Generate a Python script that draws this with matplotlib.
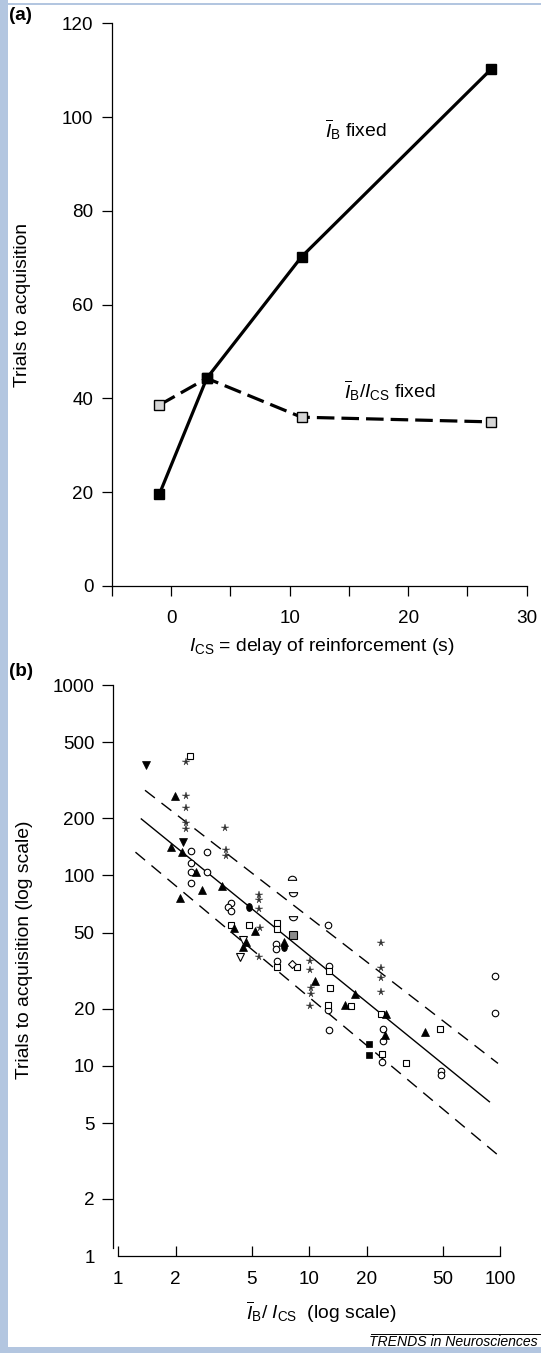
import numpy as np
import matplotlib
matplotlib.use("Agg")
import matplotlib.pyplot as plt
from matplotlib.path import Path
from matplotlib.patches import Rectangle
from matplotlib.lines import Line2D
from matplotlib.transforms import Affine2D

plt.rcParams['font.family'] = ['Liberation Sans', 'DejaVu Sans']
plt.rcParams['mathtext.fontset'] = 'custom'
plt.rcParams['mathtext.rm'] = 'Liberation Sans'
plt.rcParams['mathtext.it'] = 'Liberation Sans:italic'
plt.rcParams['mathtext.bf'] = 'Liberation Sans:bold'

# ---------- panel (a) data ----------
delay = [-1, 3, 11, 27]
trials_ib_fixed = [19.6, 44.3, 70.2, 110.2]
trials_ratio_fixed = [38.6, 44.3, 36.0, 35.0]
xticks_a = [-5, 0, 5, 10, 15, 20, 25, 30]
xticklabels_a = ['', '0', '', '10', '', '20', '', '30']
yticks_a = [0, 20, 40, 60, 80, 100, 120]

# ---------- panel (b) data ----------
open_sq_x = [2.37, 3.88, 4.85, 6.77, 6.77, 6.8, 8.65, 12.7, 12.8, 12.6, 16.6, 23.7, 48.3, 24.2, 32.1]
open_sq_y = [425, 55, 55, 56.4, 52.1, 33.0, 33.1, 31.6, 25.5, 20.8, 20.7, 18.8, 15.6, 11.5, 10.3]

open_circ_x = [2.39, 2.9, 2.39, 2.39, 2.9, 2.39, 3.88, 3.75, 3.88, 12.6, 6.69, 6.69,
               6.8, 12.7, 12.6, 12.7, 24.4, 24.4, 24.2, 94.6, 94.6, 49.3, 49.3]
open_circ_y = [135, 132, 116, 104, 104, 91.5, 71.5, 68.4, 65, 54.7, 43.6, 40.9,
               35.4, 33.4, 19.6, 15.4, 15.6, 13.5, 10.5, 29.6, 19.0, 9.4, 8.95]

up_tri_x = [1.98, 1.89, 2.16, 2.55, 2.74, 2.11, 3.48, 4.03, 5.2, 4.66, 4.51, 7.4,
            10.7, 17.3, 15.5, 25.4, 24.9, 40.3]
up_tri_y = [262, 141, 132, 104, 83.7, 76, 88, 53, 51.3, 44.7, 42.2, 44.8,
            28, 23.9, 20.8, 18.7, 14.5, 15]

down_tri_x = [1.4, 2.18]
down_tri_y = [380, 150]
open_down_x = [4.51, 4.35]
open_down_y = [46, 37.1]

star_x = [2.25, 2.25, 2.25, 2.25, 2.25, 3.62, 3.66, 3.66, 5.47, 5.47, 5.47, 5.52,
          5.47, 10.1, 10.1, 10.2, 10.2, 10.1, 23.7, 23.7, 23.7, 23.7]
star_y = [392, 261, 226, 189, 176, 177, 136, 127, 79, 74, 67, 52.9,
          37.1, 35.5, 32, 25.5, 23.8, 20.6, 44.3, 32.6, 28.9, 24.4]

dome_up_x = [8.17]
dome_up_y = [97]
dome_down_x = [8.27, 8.27]
dome_down_y = [80, 59.5]

black_sq_x = [20.6, 20.6]
black_sq_y = [13.0, 11.4]
grey_sq_x = [8.19]
grey_sq_y = [48.6]
black_oval_x = [4.85, 7.4]
black_oval_y = [68.4, 41.9]
diamond_x = [8.12]
diamond_y = [34.4]

fit_x = [1.32, 88.0]
fit_y = [198, 6.48]
upper_x = [1.38, 97.6]
upper_y = [280, 10.3]
lower_x = [1.23, 97.6]
lower_y = [132.5, 3.40]

xticks_b = [1, 2, 5, 10, 20, 50, 100]
yticks_b = [1, 2, 5, 10, 20, 50, 100, 200, 500, 1000]

# custom marker shapes
w = Path.wedge(0, 180)
dome_up = Path(w.vertices - [0, 0.45], w.codes)
w2 = Path.wedge(180, 360)
dome_down = Path(w2.vertices + [0, 0.45], w2.codes)
oval = Path.unit_circle().transformed(Affine2D().scale(0.72, 1.0))

W, H = 541, 1353
fig = plt.figure(figsize=(W / 100, H / 100), dpi=100)
fig.patch.set_facecolor('white')

# light blue frame
blue = '#b3c6e0'
fig.add_artist(Rectangle((0, 0), 8 / W, 1, transform=fig.transFigure, color=blue, lw=0))
fig.add_artist(Rectangle((0, 1 - 5 / H), 1, 2.5 / H, transform=fig.transFigure, color=blue, lw=0))
fig.add_artist(Rectangle((0, 0), 1, 6 / H, transform=fig.transFigure, color=blue, lw=0))

fs = 13.6   # tick labels
fl = 13.9   # axis labels and annotations

# ================= panel (a) =================
ax1 = fig.add_axes([112 / W, 1 - 586 / H, 414.6 / W, 562.7 / H])
ax1.set_xlim(-5, 30)
ax1.set_ylim(0, 120)
for s in ['top', 'right']:
    ax1.spines[s].set_visible(False)
for s in ['left', 'bottom']:
    ax1.spines[s].set_linewidth(0.9)

ax1.plot(delay, trials_ratio_fixed, color='black', lw=2.3, ls=(0, (5.5, 2.2)),
         marker='s', ms=7.5, mfc='#d6d6d6', mec='black', mew=1, clip_on=False, zorder=2)
ax1.plot(delay, trials_ib_fixed, color='black', lw=2.3,
         marker='s', ms=7.5, mfc='black', mec='black', clip_on=False, zorder=3)

ax1.set_xticks(xticks_a)
ax1.set_xticklabels(xticklabels_a)
ax1.set_yticks(yticks_a)
ax1.tick_params(direction='out', length=7.5, width=0.9, labelsize=fs)
ax1.tick_params(axis='x', pad=9.5)
ax1.tick_params(axis='y', pad=6)

ax1.text(13.0, 95.8, r'$\overline{I}_{\rm B}$ fixed', fontsize=fl, va='baseline')
ax1.text(14.6, 40.0, r'$\overline{I}_{\rm B}/I_{\rm CS}$ fixed', fontsize=fl, va='baseline')

ax1.set_ylabel('Trials to acquisition', fontsize=fl)
ax1.yaxis.set_label_coords(-0.195, 0.5)
ax1.set_xlabel(r'$I_{\rm CS}$ = delay of reinforcement (s)', fontsize=fl)
ax1.xaxis.set_label_coords(0.5065, -0.088)

fig.text(9 / W, 1 - 16 / H, '(a)', fontsize=fs, fontweight='bold', va='center')

# ================= panel (b) =================
ax2 = fig.add_axes([118.3 / W, 1 - 1256.3 / H, 381.7 / W, 571.3 / H])
ax2.set_xscale('log')
ax2.set_yscale('log')
ax2.set_xlim(1, 100)
ax2.set_ylim(1, 1000)
for s in ['top', 'right']:
    ax2.spines[s].set_visible(False)
for s in ['left', 'bottom']:
    ax2.spines[s].set_linewidth(0.9)
ax2.spines['left'].set_position(('outward', 3.5))
ax2.spines['left'].set_bounds(1.1, 1000)

# regression line and bounds
ax2.plot(fit_x, fit_y, color='black', lw=1.0, zorder=1)
ax2.plot(upper_x, upper_y, color='black', lw=1.0, ls=(0, (9, 6)), zorder=1)
ax2.plot(lower_x, lower_y, color='black', lw=1.0, ls=(0, (9, 6)), zorder=1)

ms = 4.7
mew = 0.8
common = dict(ls='none', clip_on=False, zorder=3)
ax2.plot(open_circ_x, open_circ_y, marker='o', ms=ms, mfc='white', mec='black', mew=mew, **common)
ax2.plot(open_sq_x, open_sq_y, marker='s', ms=ms, mfc='white', mec='black', mew=mew, **common)
ax2.plot(up_tri_x, up_tri_y, marker='^', ms=ms + 0.8, mfc='black', mec='black', mew=0.5, **common)
ax2.plot(down_tri_x, down_tri_y, marker='v', ms=ms + 0.8, mfc='black', mec='black', mew=0.5, **common)
ax2.plot(open_down_x, open_down_y, marker='v', ms=ms + 0.8, mfc='white', mec='black', mew=mew, **common)
ax2.plot(star_x, star_y, marker='*', ms=5.3, mfc='#333333', mec='#333333', mew=0.3, **common)
ax2.plot(dome_up_x, dome_up_y, marker=dome_up, ms=ms + 1.2, mfc='white', mec='black', mew=mew, **common)
ax2.plot(dome_down_x, dome_down_y, marker=dome_down, ms=ms + 1.2, mfc='white', mec='black', mew=mew, **common)
ax2.plot(black_sq_x, black_sq_y, marker='s', ms=ms, mfc='black', mec='black', mew=0.5, **common)
ax2.plot(grey_sq_x, grey_sq_y, marker='s', ms=ms + 0.5, mfc='#8a8a8a', mec='black', mew=mew, **common)
ax2.plot(black_oval_x, black_oval_y, marker=oval, ms=ms + 0.8, mfc='black', mec='black', mew=mew, **common)
ax2.plot(diamond_x, diamond_y, marker='D', ms=ms - 0.3, mfc='white', mec='black', mew=mew, **common)

ax2.xaxis.set_minor_locator(matplotlib.ticker.NullLocator())
ax2.yaxis.set_minor_locator(matplotlib.ticker.NullLocator())
ax2.set_xticks(xticks_b)
ax2.set_xticklabels([str(v) for v in xticks_b])
ax2.set_yticks(yticks_b)
ax2.set_yticklabels([str(v) for v in yticks_b])
ax2.tick_params(axis='x', direction='in', length=7.5, width=0.9, labelsize=fs, pad=10.5)
ax2.tick_params(axis='y', direction='out', length=8, width=0.9, labelsize=fs, pad=5.5)
ax2.yaxis.get_major_ticks()[0].tick1line.set_visible(False)

ax2.set_ylabel('Trials to acquisition (log scale)', fontsize=fl)
ax2.yaxis.set_label_coords(-0.2235, 0.536)
ax2.set_xlabel(r'$\overline{I}_{\rm B}$/ $I_{\rm CS}$  (log scale)', fontsize=fl)
ax2.xaxis.set_label_coords(0.531, -0.0745)

fig.text(9 / W, 1 - 672 / H, '(b)', fontsize=fs, fontweight='bold', va='center')

# journal footer (shrunk a little so it stays inside the figure)
fig.add_artist(Line2D([370.7 / W, 1], [1 - 1334.3 / H, 1 - 1334.3 / H],
                      transform=fig.transFigure, color='black', lw=0.7))
fig.text(369 / W, 1 - 1341.5 / H, 'TRENDS in Neurosciences', fontsize=10.1,
         fontstyle='italic', va='center', ha='left')

fig.savefig('out.png', dpi=100)
